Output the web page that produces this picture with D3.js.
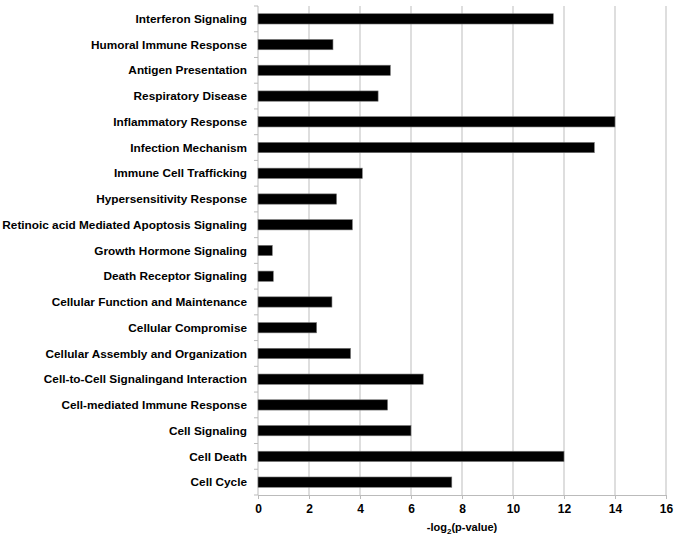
<!DOCTYPE html>
<html>
<head>
<meta charset="utf-8">
<script src="https://cdn.jsdelivr.net/npm/d3@7"></script>
<style>
  body { margin: 0; background: #fff; }
  text { font-family: "Liberation Sans", Arial, sans-serif; font-weight: bold; fill: #000; }
</style>
</head>
<body>
<div id="chart"></div>
<script>
// Categories listed top to bottom
const categories = [
  'Interferon Signaling', 'Humoral Immune Response', 'Antigen Presentation',
  'Respiratory Disease', 'Inflammatory Response', 'Infection Mechanism',
  'Immune Cell Trafficking', 'Hypersensitivity Response',
  'Retinoic acid Mediated Apoptosis Signaling', 'Growth Hormone Signaling',
  'Death Receptor Signaling', 'Cellular Function and Maintenance',
  'Cellular Compromise', 'Cellular Assembly and Organization',
  'Cell-to-Cell Signalingand Interaction', 'Cell-mediated Immune Response',
  'Cell Signaling', 'Cell Death', 'Cell Cycle'
];
const values = [11.58, 2.94, 5.19, 4.71, 14.0, 13.19, 4.09, 3.08, 3.7, 0.56,
  0.6, 2.9, 2.3, 3.63, 6.48, 5.08, 6.0, 12.0, 7.6];
const xTicks = [0, 2, 4, 6, 8, 10, 12, 14, 16];

const width = 679, height = 540;
const margin = {top: 6, right: 13, bottom: 45, left: 258};
const chartWidth = width - margin.left - margin.right;
const chartHeight = height - margin.top - margin.bottom;

const svg = d3.select('#chart').append('svg')
  .attr('width', width)
  .attr('height', height);

const chart = svg.append('g')
  .attr('transform', `translate(${margin.left}, ${margin.top})`);

const xScale = d3.scaleLinear().domain([0, 16]).range([0, chartWidth]);
const yScale = d3.scaleBand().domain(categories).range([0, chartHeight]).paddingInner(0.6).paddingOuter(0.3);

// Gridlines
chart.selectAll('.grid').data(xTicks.slice(1))
  .enter().append('line')
  .attr('x1', d => xScale(d)).attr('x2', d => xScale(d))
  .attr('y1', 0).attr('y2', chartHeight)
  .attr('stroke', '#c8c8c8').attr('stroke-width', 1.2);

// X axis
const xAxis = d3.axisBottom(xScale).tickValues(xTicks).tickSize(4).tickPadding(5);
const xg = chart.append('g').attr('transform', `translate(0, ${chartHeight})`).call(xAxis);
xg.select('.domain').attr('stroke', '#bbb');
xg.selectAll('.tick line').attr('stroke', '#bbb');
xg.selectAll('.tick text').attr('font-size', 12).style('font-weight', 'bold');

// Y axis line and category separators
chart.append('line')
  .attr('x1', 0).attr('x2', 0).attr('y1', 0).attr('y2', chartHeight)
  .attr('stroke', '#bbb');
chart.selectAll('.ytick').data(d3.range(categories.length + 1))
  .enter().append('line')
  .attr('x1', -4).attr('x2', 0)
  .attr('y1', i => i * chartHeight / categories.length)
  .attr('y2', i => i * chartHeight / categories.length)
  .attr('stroke', '#bbb');

// Bars
chart.selectAll('.bar').data(categories)
  .enter().append('rect')
  .attr('x', 0)
  .attr('y', d => yScale(d))
  .attr('width', (d, i) => xScale(values[i]))
  .attr('height', yScale.bandwidth())
  .attr('fill', '#000')
  .attr('stroke', '#777').attr('stroke-width', 0.6);

// Category labels
chart.selectAll('.label').data(categories)
  .enter().append('text')
  .attr('x', -11)
  .attr('y', d => yScale(d) + yScale.bandwidth() / 2)
  .attr('dy', '0.35em')
  .attr('text-anchor', 'end')
  .attr('font-size', 11.8)
  .text(d => d);

// Axis title
const title = svg.append('text')
  .attr('x', margin.left + chartWidth / 2)
  .attr('y', 531)
  .attr('text-anchor', 'middle')
  .attr('font-size', 11);
title.append('tspan').text('-log');
title.append('tspan').attr('font-size', 8).attr('dy', 3).text('2');
title.append('tspan').attr('dy', -3).text('(p-value)');
</script>
</body>
</html>
